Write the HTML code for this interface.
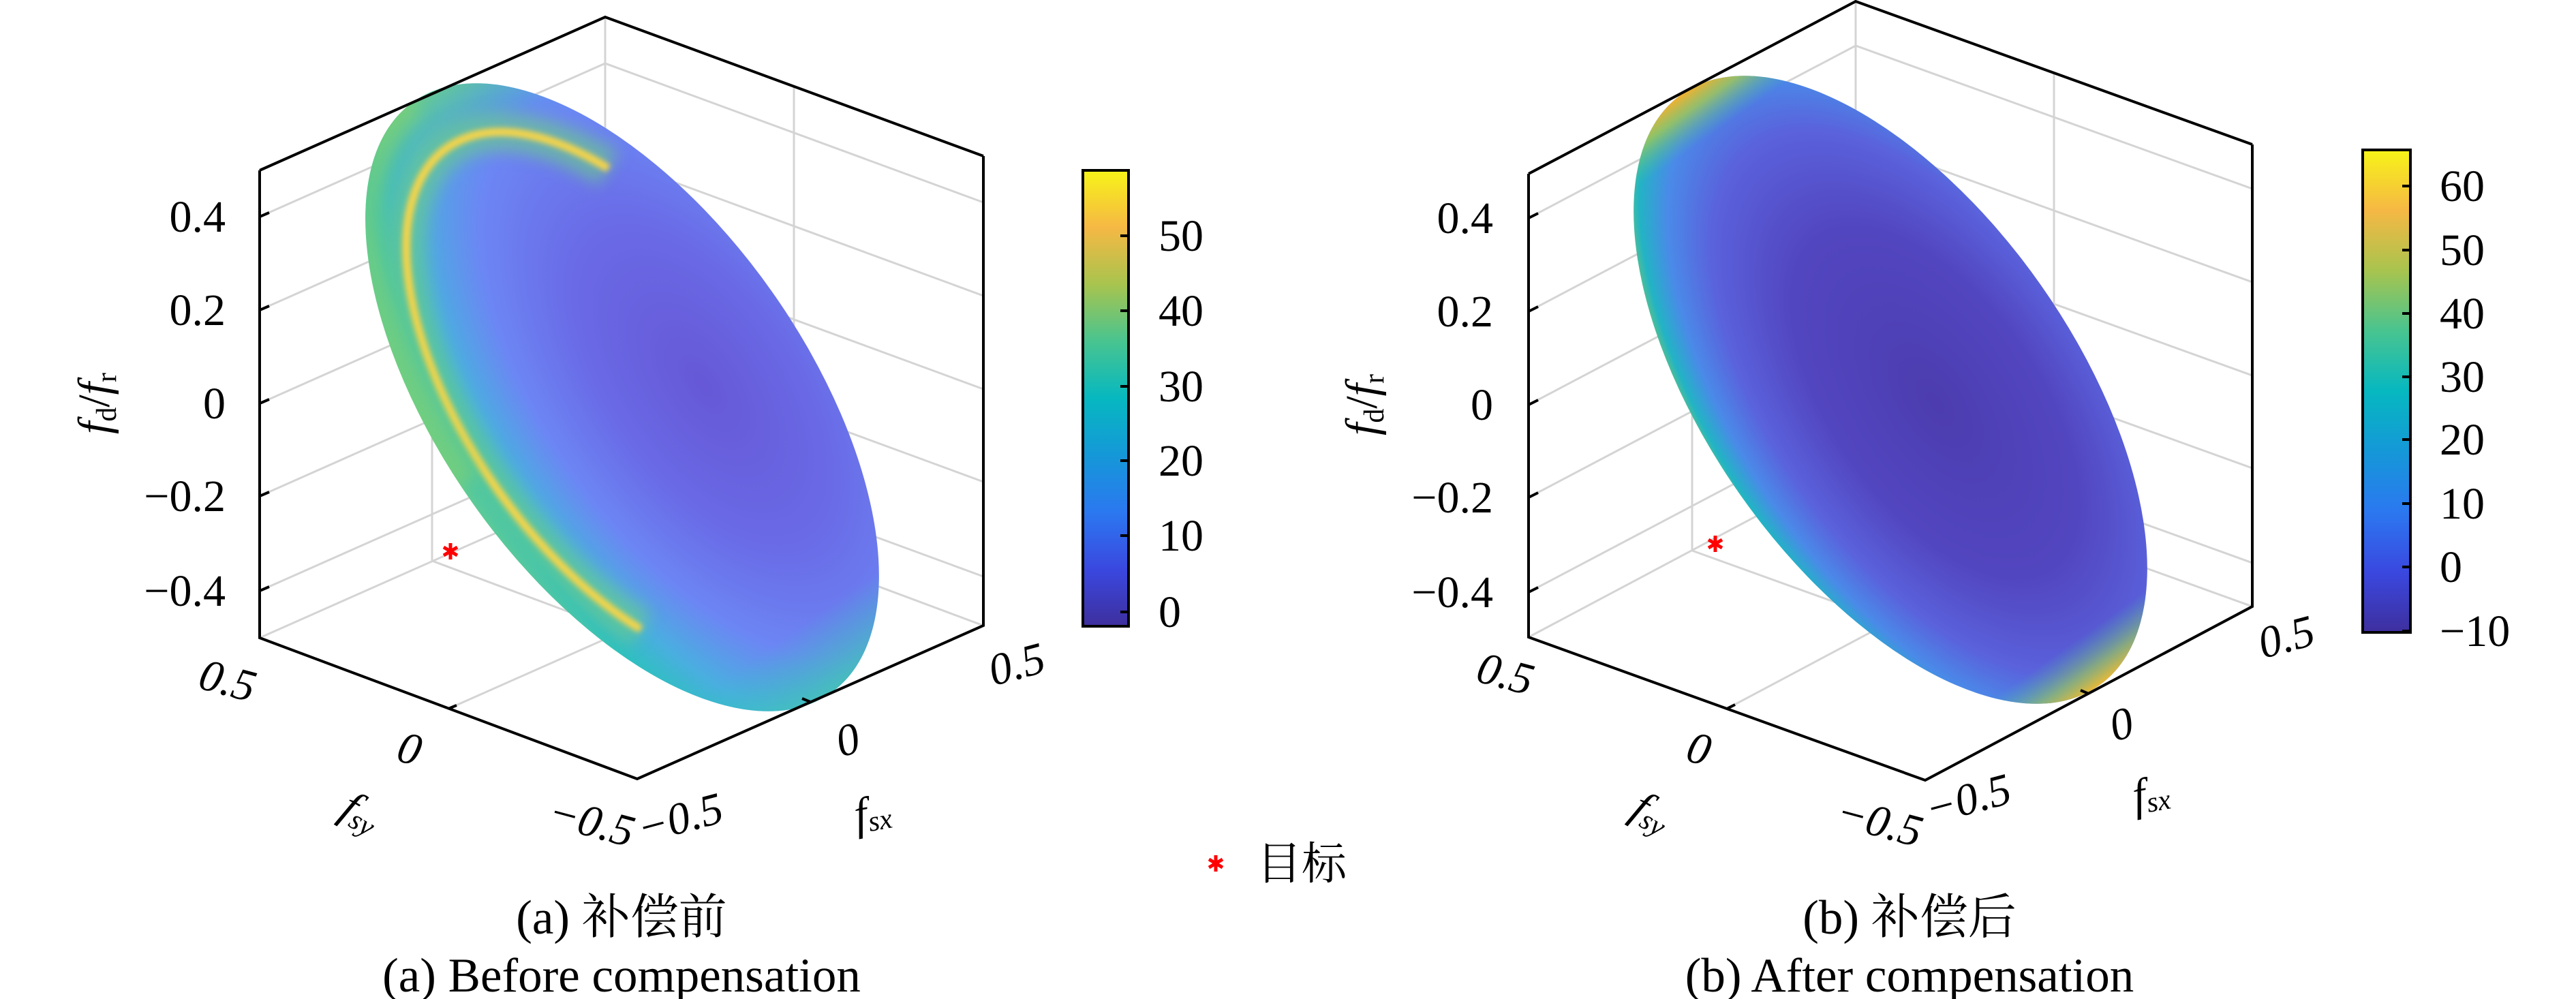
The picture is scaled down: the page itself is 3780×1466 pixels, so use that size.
<!DOCTYPE html>
<html><head><meta charset="utf-8"><style>html,body{margin:0;padding:0;background:#fff}svg{display:block}</style></head><body>
<svg width="3780" height="1466" viewBox="0 0 3780 1466" xmlns="http://www.w3.org/2000/svg" font-family="Liberation Serif, Noto Serif CJK SC, serif" font-size="66">
<defs>
<linearGradient id="parula" x1="0" y1="1" x2="0" y2="0">
<stop offset="0" stop-color="#3e2f9e"/><stop offset="0.125" stop-color="#3a48e0"/><stop offset="0.25" stop-color="#2b78f0"/><stop offset="0.375" stop-color="#1598d8"/><stop offset="0.5" stop-color="#06b8c0"/><stop offset="0.625" stop-color="#48c490"/><stop offset="0.75" stop-color="#a8c44e"/><stop offset="0.875" stop-color="#f6b844"/><stop offset="1" stop-color="#f7f418"/>
</linearGradient>
<radialGradient id="gL" cx="0.55" cy="0.3" r="0.72">
<stop offset="0" stop-color="#6658d6"/><stop offset="0.35" stop-color="#6a6ae6"/><stop offset="0.6" stop-color="#6c86f4"/><stop offset="0.78" stop-color="#4aaee0"/><stop offset="0.9" stop-color="#2fc0c0"/><stop offset="1" stop-color="#70d088"/>
</radialGradient>
<radialGradient id="gR" cx="0.55" cy="0.42" r="0.62">
<stop offset="0" stop-color="#4c3caf"/><stop offset="0.45" stop-color="#5246c0"/><stop offset="0.7" stop-color="#5a62dc"/><stop offset="0.84" stop-color="#4a8ae8"/><stop offset="0.93" stop-color="#22b4c4"/><stop offset="1" stop-color="#8ccb5c"/>
</radialGradient>
<linearGradient id="endR" x1="0" y1="0" x2="1" y2="0">
<stop offset="0" stop-color="#f2b030" stop-opacity="1"/><stop offset="0.025" stop-color="#a8c850" stop-opacity="0.8"/><stop offset="0.07" stop-color="#40c0a0" stop-opacity="0"/><stop offset="0.93" stop-color="#40c0a0" stop-opacity="0"/><stop offset="0.975" stop-color="#9cc858" stop-opacity="0.7"/><stop offset="1" stop-color="#e8b838" stop-opacity="1"/>
</linearGradient>
<linearGradient id="endL" x1="0" y1="0" x2="1" y2="0">
<stop offset="0" stop-color="#70cf80" stop-opacity="0.8"/><stop offset="0.1" stop-color="#40c0b0" stop-opacity="0"/><stop offset="0.9" stop-color="#30c0c0" stop-opacity="0"/><stop offset="1" stop-color="#40c8b0" stop-opacity="0.8"/>
</linearGradient>
<filter id="b12" x="-20%" y="-20%" width="140%" height="140%"><feGaussianBlur stdDeviation="12"/></filter>
<filter id="b4" x="-20%" y="-20%" width="140%" height="140%"><feGaussianBlur stdDeviation="4"/></filter>
<clipPath id="ce"><ellipse cx="0" cy="0" rx="531" ry="269"/></clipPath>
</defs>

<g stroke="#d4d4d4" stroke-width="3" fill="none">
<path d="M381,318 L888,93 L1443,297 M381,455 L888,230 L1443,434 M381,592 L888,367 L1443,571 M381,728 L888,503 L1443,707 M381,867 L888,642 L1443,846 M381,936 L888,711 L1443,918"/>
<path d="M888,25 L888,711 M634,137 L634,823 M1165,126 L1165,815 M634,823 L1189,1030 M1165,815 L658,1040"/>
</g>
<g stroke="#ff0000" stroke-width="5"><path d="M661,797 L661,821 M651,803 L671,815 M651,815 L671,803"/></g>
<g transform="translate(913,583) rotate(54.8)">
<ellipse cx="0" cy="0" rx="531" ry="269" fill="url(#gL)"/>
<ellipse cx="0" cy="0" rx="531" ry="269" fill="url(#endL)"/>
<g clip-path="url(#ce)">
<path d="M -286 -177 A 451 229 0 1 0 294 174" fill="none" stroke="#6ccc88" stroke-width="56" opacity="0.65" filter="url(#b12)"/>
<path d="M -286 -177 A 451 229 0 1 0 294 174" fill="none" stroke="#f6d44a" stroke-width="12" filter="url(#b4)"/>
<path d="M -30 259 A 531 269 0 0 1 -531 0" fill="none" stroke="#80d070" stroke-width="40" opacity="0.6" filter="url(#b12)"/>
</g>
</g>
<g stroke="#000" stroke-width="4" fill="none">
<path d="M381,250 L888,25 L1443,229 M381,250 L381,936 L935,1143 L1443,918 L1443,229"/>
<path d="M381,318 l14,-6 M381,455 l14,-6 M381,592 l14,-6 M381,728 l14,-6 M381,867 l14,-6"/>
<path d="M658,1040 l12,-5 M1189,1030 l-12,-5"/>
</g>
<g text-anchor="end"><text x="331" y="340">0.4</text><text x="331" y="477">0.2</text><text x="331" y="614">0</text><text x="331" y="750">−0.2</text><text x="331" y="889">−0.4</text></g>
<text transform="translate(160,592) rotate(-90)" text-anchor="middle"><tspan font-style="italic">f</tspan><tspan font-size="42" dy="10">d</tspan><tspan dy="-10">/</tspan><tspan font-style="italic">f</tspan><tspan font-size="42" dy="10">r</tspan></text>
<g text-anchor="middle" dominant-baseline="central" font-style="italic">
<text transform="translate(334,999) rotate(15)">0.5</text>
<text transform="translate(601,1099) rotate(15)">0</text>
<text transform="translate(868,1206) rotate(15)">−0.5</text>
<text transform="translate(998,1201) rotate(-15)">−0.5</text>
<text transform="translate(1244,1086) rotate(-15)">0</text>
<text transform="translate(1492,975) rotate(-15)">0.5</text>
<text transform="translate(530,1192) rotate(30)">f<tspan font-size="42" dy="14">sy</tspan></text>
<text transform="translate(1280,1192) rotate(-10)">f<tspan font-size="42" dy="14">sx</tspan></text>
</g>
<rect x="1589" y="250" width="67" height="669" fill="url(#parula)" stroke="#000" stroke-width="4"/>
<g stroke="#000" stroke-width="4"><path d="M1644,346 H1656 M1644,456 H1656 M1644,567 H1656 M1644,676 H1656 M1644,786 H1656 M1644,898 H1656"/></g>
<g><text x="1700" y="368">50</text><text x="1700" y="478">40</text><text x="1700" y="589">30</text><text x="1700" y="698">20</text><text x="1700" y="808">10</text><text x="1700" y="920">0</text></g>
<g text-anchor="middle" font-size="71"><text x="912" y="1370">(a) 补偿前</text><text x="912" y="1455">(a) Before compensation</text></g>

<g stroke="#ff0000" stroke-width="5"><path d="M1784,1255 L1784,1279 M1774,1261 L1794,1273 M1774,1273 L1794,1261"/></g>
<text x="1844" y="1290" font-family="Noto Serif CJK SC, Noto Sans CJK SC, serif">目标</text>

<g stroke="#d4d4d4" stroke-width="3" fill="none">
<path d="M2243,320 L2723,67 L3305,277 M2243,457 L2723,204 L3305,414 M2243,594 L2723,341 L3305,551 M2243,730 L2723,477 L3305,687 M2243,869 L2723,616 L3305,826 M2243,935 L2723,680 L3305,890"/>
<path d="M2723,2 L2723,680 M2483,128 L2483,808 M3014,107 L3014,785 M2483,808 L3065,1018 M3014,785 L2534,1040"/>
</g>
<g stroke="#ff0000" stroke-width="5"><path d="M2517,786 L2517,810 M2507,792 L2527,804 M2507,804 L2527,792"/></g>
<g transform="translate(2774,572) rotate(54.8)">
<ellipse cx="0" cy="0" rx="531" ry="269" fill="url(#gR)"/>
<ellipse cx="0" cy="0" rx="531" ry="269" fill="url(#endR)"/>
</g>
<g stroke="#000" stroke-width="4" fill="none">
<path d="M2243,255 L2723,2 L3305,212 M2243,255 L2243,935 L2825,1145 L3305,890 L3305,212"/>
<path d="M2243,320 l14,-7 M2243,457 l14,-7 M2243,594 l14,-7 M2243,730 l14,-7 M2243,869 l14,-7"/>
<path d="M2534,1040 l12,-6 M3065,1018 l-12,-5"/>
</g>
<g text-anchor="end"><text x="2191" y="342">0.4</text><text x="2191" y="479">0.2</text><text x="2191" y="616">0</text><text x="2191" y="752">−0.2</text><text x="2191" y="891">−0.4</text></g>
<text transform="translate(2020,594) rotate(-90)" text-anchor="middle"><tspan font-style="italic">f</tspan><tspan font-size="42" dy="10">d</tspan><tspan dy="-10">/</tspan><tspan font-style="italic">f</tspan><tspan font-size="42" dy="10">r</tspan></text>
<g text-anchor="middle" dominant-baseline="central" font-style="italic">
<text transform="translate(2209,989) rotate(15)">0.5</text>
<text transform="translate(2493,1099) rotate(15)">0</text>
<text transform="translate(2758,1206) rotate(15)">−0.5</text>
<text transform="translate(2888,1173) rotate(-15)">−0.5</text>
<text transform="translate(3113,1063) rotate(-15)">0</text>
<text transform="translate(3355,935) rotate(-15)">0.5</text>
<text transform="translate(2424,1192) rotate(30)">f<tspan font-size="42" dy="14">sy</tspan></text>
<text transform="translate(3156,1164) rotate(-10)">f<tspan font-size="42" dy="14">sx</tspan></text>
</g>
<rect x="3467" y="220" width="70" height="708" fill="url(#parula)" stroke="#000" stroke-width="4"/>
<g stroke="#000" stroke-width="4"><path d="M3525,273 H3537 M3525,367 H3537 M3525,460 H3537 M3525,553 H3537 M3525,645 H3537 M3525,739 H3537 M3525,832 H3537 M3525,926 H3537"/></g>
<g><text x="3580" y="295">60</text><text x="3580" y="389">50</text><text x="3580" y="482">40</text><text x="3580" y="575">30</text><text x="3580" y="667">20</text><text x="3580" y="761">10</text><text x="3580" y="854">0</text><text x="3580" y="948">−10</text></g>
<g text-anchor="middle" font-size="71"><text x="2802" y="1370">(b) 补偿后</text><text x="2802" y="1455">(b) After compensation</text></g>
</svg>
</body></html>
